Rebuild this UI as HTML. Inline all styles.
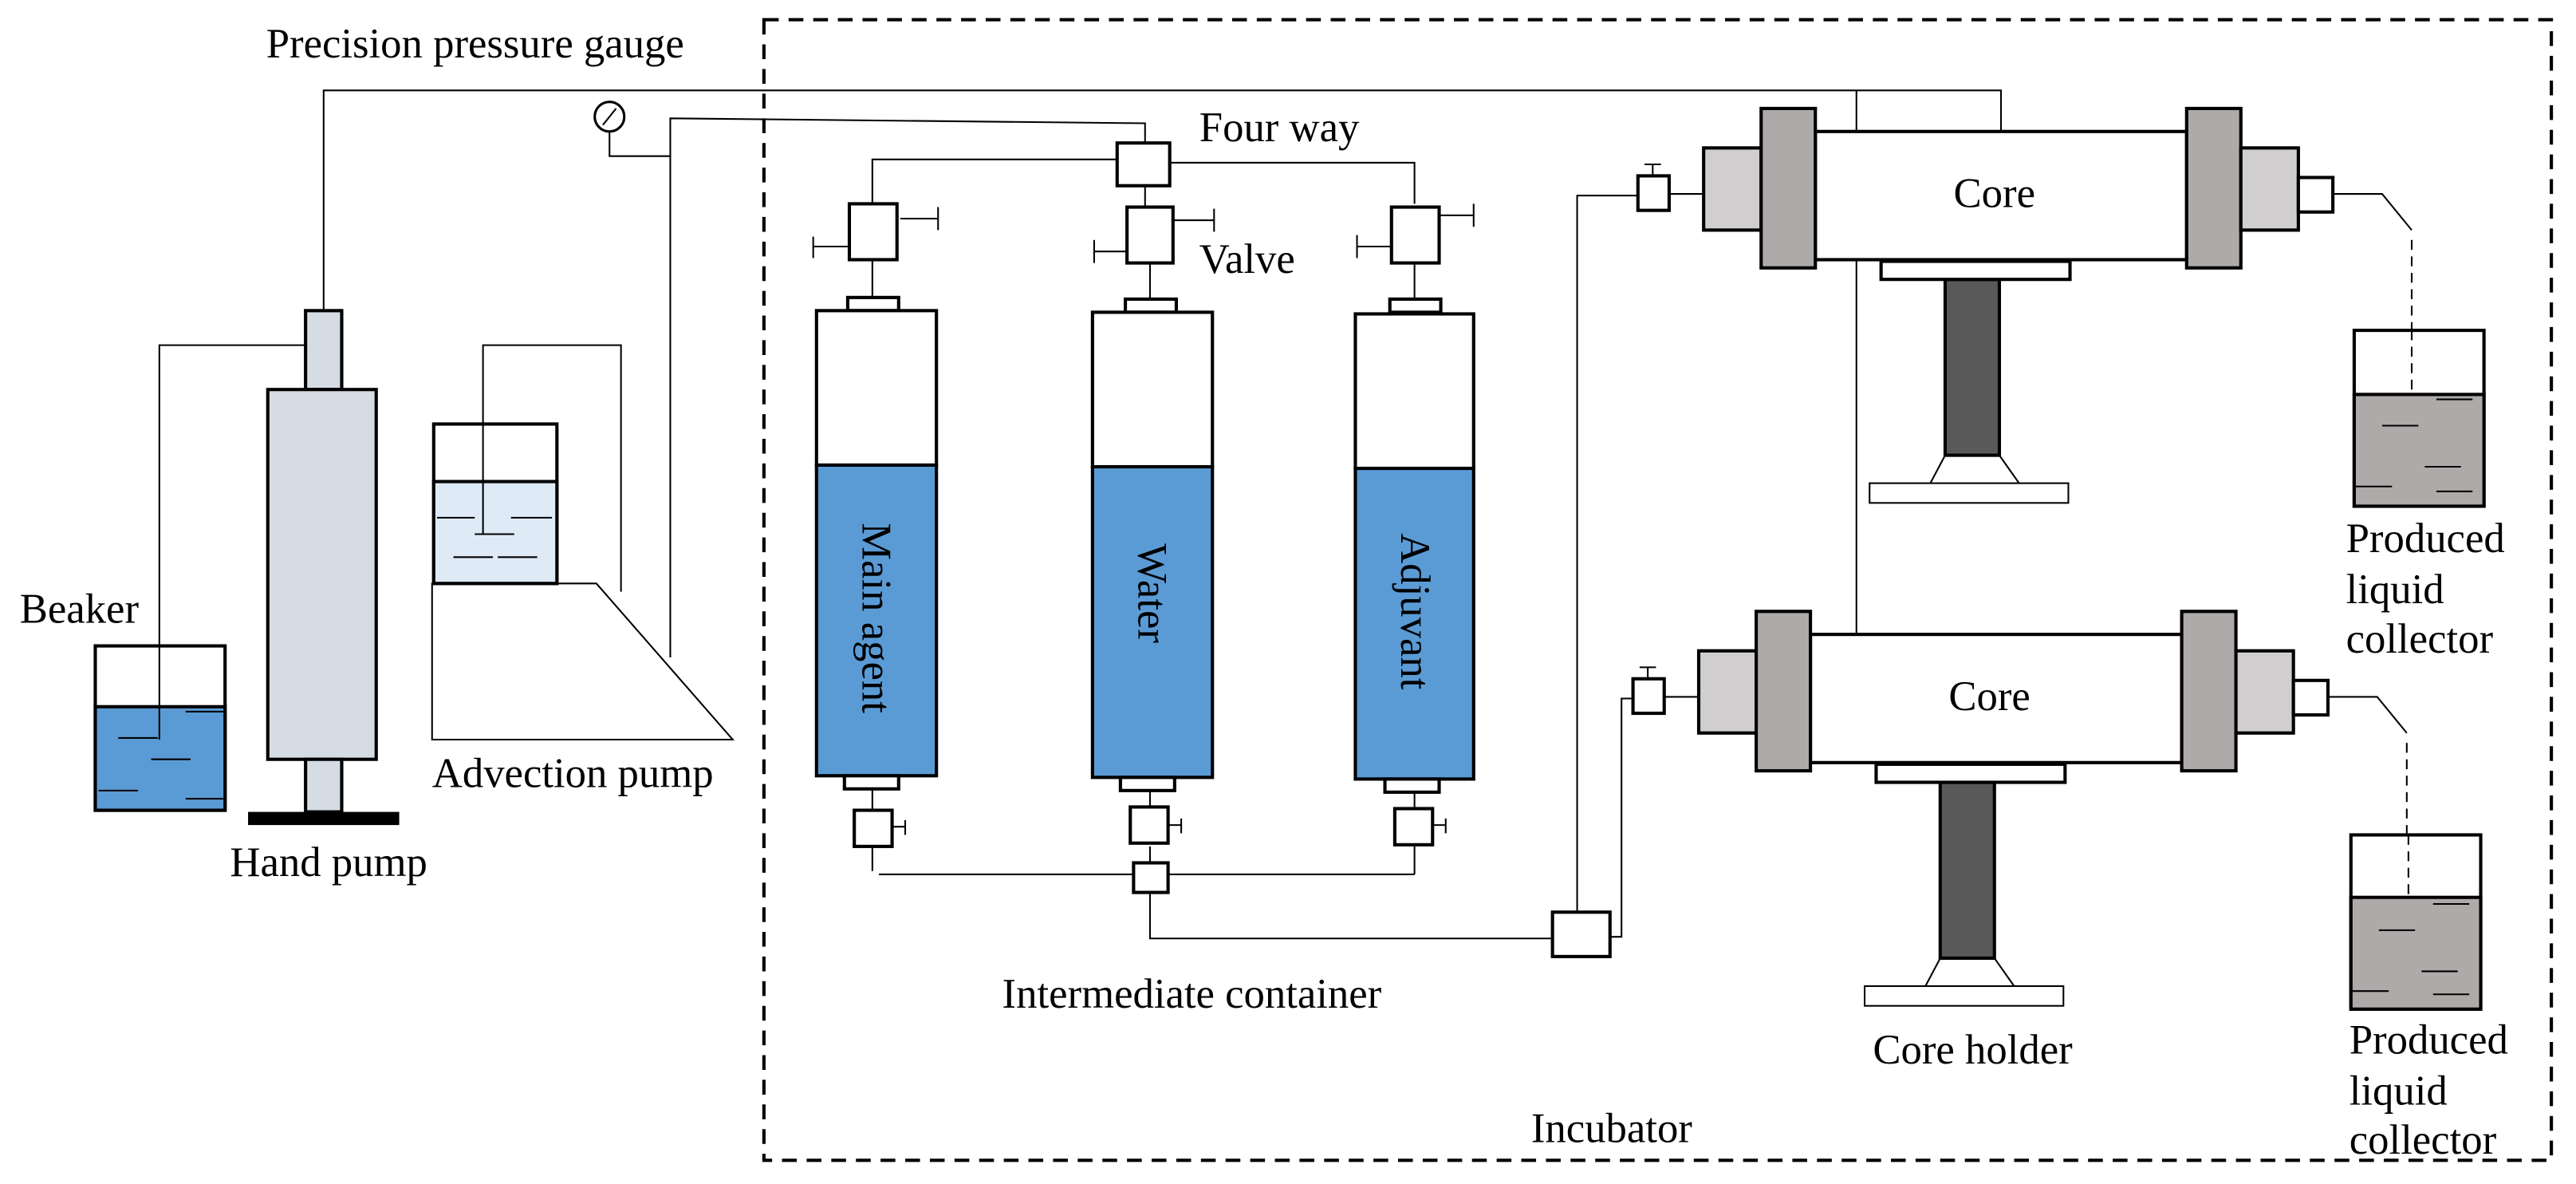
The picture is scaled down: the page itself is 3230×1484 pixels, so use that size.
<!DOCTYPE html>
<html><head><style>
html,body{margin:0;padding:0;background:#fff}
svg{display:block}
text{font-family:"Liberation Serif",serif;font-size:25.6px;fill:#000}
</style></head><body>
<svg width="3230" height="1484" viewBox="0 0 1568 720.4" preserveAspectRatio="none" xmlns="http://www.w3.org/2000/svg">
<rect x="0" y="0" width="1568" height="721" fill="#fff"/>
<rect x="465" y="12" width="1088" height="694" fill="none" stroke="#000" stroke-width="2" stroke-dasharray="9,6"/>
<g fill="none" stroke="#000" stroke-width="1">
<polyline points="197,189 197,55 1218,55 1218,80"/>
<polyline points="1130,55 1130,386"/>
<polyline points="371,79 371,95 408,95"/>
<polyline points="408,400 408,72 697,75 697,87"/>
<polyline points="531,124 531,97 680,97"/>
<polyline points="712,99 861,99 861,124"/>
<line x1="697" y1="113" x2="697" y2="126"/>
<line x1="531" y1="158" x2="531" y2="181"/>
<line x1="700" y1="160" x2="700" y2="183"/>
<line x1="861" y1="160" x2="861" y2="182"/>
<line x1="531" y1="480" x2="531" y2="492"/>
<line x1="531" y1="515" x2="531" y2="530"/>
<line x1="700" y1="480" x2="700" y2="492"/>
<line x1="700" y1="515" x2="700" y2="525"/>
<line x1="861" y1="480" x2="861" y2="492"/>
<line x1="861" y1="515" x2="861" y2="532"/>
<line x1="535" y1="532" x2="861" y2="532"/>
<polyline points="700,543 700,571 945,571"/>
<polyline points="960,555 960,119 997,119"/>
<polyline points="980,570 987,570 987,425 995,425"/>
<polyline points="97,450 97,210 186,210"/>
<polyline points="294,325 294,210 378,210 378,360"/>
</g>
<circle cx="371" cy="71" r="9" fill="#fff" stroke="#000" stroke-width="1.5"/>
<line x1="367" y1="76" x2="375" y2="66" stroke="#000" stroke-width="1"/>
<rect x="58" y="393" width="79" height="100" fill="#fff" stroke="#000" stroke-width="2"/>
<rect x="58" y="430" width="79" height="63" fill="#5b9bd5" stroke="#000" stroke-width="2"/>
<line x1="97" y1="393" x2="97" y2="450" stroke="#000"/>
<g stroke="#000" stroke-width="1"><line x1="113" y1="433" x2="136" y2="433"/><line x1="72" y1="449" x2="96" y2="449"/><line x1="92" y1="462" x2="116" y2="462"/><line x1="60" y1="481" x2="84" y2="481"/><line x1="113" y1="486" x2="136" y2="486"/></g>
<rect x="186" y="189" width="22" height="48" fill="#d6dce4" stroke="#000" stroke-width="2"/>
<rect x="163" y="237" width="66" height="225" fill="#d6dce4" stroke="#000" stroke-width="2"/>
<rect x="186" y="462" width="22" height="32" fill="#d6dce4" stroke="#000" stroke-width="2"/>
<rect x="151" y="494" width="92" height="8" fill="#000"/>
<polygon points="263,355 363,355 446,450 263,450" fill="#fff" stroke="#000" stroke-width="1"/>
<rect x="264" y="258" width="75" height="97" fill="#fff" stroke="#000" stroke-width="2"/>
<rect x="264" y="293" width="75" height="62" fill="#deebf7" stroke="#000" stroke-width="2"/>
<line x1="294" y1="258" x2="294" y2="325" stroke="#000"/>
<g stroke="#000" stroke-width="1"><line x1="266" y1="315" x2="289" y2="315"/><line x1="311" y1="315" x2="336" y2="315"/><line x1="289" y1="325" x2="313" y2="325"/><line x1="276" y1="339" x2="300" y2="339"/><line x1="303" y1="339" x2="327" y2="339"/></g>
<rect x="680" y="87" width="32" height="26" fill="#fff" stroke="#000" stroke-width="2"/>
<g fill="#fff" stroke="#000" stroke-width="2">
<rect x="517" y="124" width="29" height="34"/>
<rect x="686" y="126" width="28" height="34"/>
<rect x="847" y="126" width="29" height="34"/>
</g>
<g stroke="#000" stroke-width="1">
<line x1="548" y1="133" x2="571" y2="133"/><line x1="571" y1="126" x2="571" y2="140"/>
<line x1="495" y1="150" x2="517" y2="150"/><line x1="495" y1="144" x2="495" y2="157"/>
<line x1="714" y1="134" x2="739" y2="134"/><line x1="739" y1="127" x2="739" y2="141"/>
<line x1="666" y1="153" x2="686" y2="153"/><line x1="666" y1="146" x2="666" y2="160"/>
<line x1="876" y1="131" x2="897" y2="131"/><line x1="897" y1="124" x2="897" y2="138"/>
<line x1="826" y1="150" x2="847" y2="150"/><line x1="826" y1="143" x2="826" y2="157"/>
</g>
<g stroke="#000" stroke-width="2">
<rect x="516" y="181" width="31" height="8" fill="#fff"/>
<rect x="685" y="182" width="31" height="8" fill="#fff"/>
<rect x="846" y="182" width="31" height="8" fill="#fff"/>
<rect x="497" y="189" width="73" height="94" fill="#fff"/>
<rect x="497" y="283" width="73" height="189" fill="#5b9bd5"/>
<rect x="665" y="190" width="73" height="94" fill="#fff"/>
<rect x="665" y="284" width="73" height="189" fill="#5b9bd5"/>
<rect x="825" y="191" width="72" height="94" fill="#fff"/>
<rect x="825" y="285" width="72" height="189" fill="#5b9bd5"/>
<rect x="514" y="472" width="33" height="8" fill="#fff"/>
<rect x="682" y="473" width="33" height="8" fill="#fff"/>
<rect x="843" y="474" width="33" height="8" fill="#fff"/>
<rect x="520" y="493" width="23" height="22" fill="#fff"/>
<rect x="688" y="491" width="23" height="22" fill="#fff"/>
<rect x="849" y="492" width="23" height="22" fill="#fff"/>
<rect x="690" y="525" width="21" height="18" fill="#fff"/>
<rect x="945" y="555" width="35" height="27" fill="#fff"/>
</g>
<g stroke="#000" stroke-width="1">
<line x1="543" y1="503" x2="551" y2="503"/><line x1="551" y1="499" x2="551" y2="508"/>
<line x1="711" y1="502" x2="719" y2="502"/><line x1="719" y1="498" x2="719" y2="507"/>
<line x1="872" y1="502" x2="880" y2="502"/><line x1="880" y1="498" x2="880" y2="507"/>
</g>
<text transform="translate(525,376) rotate(90)" text-anchor="middle">Main agent</text>
<text transform="translate(693,361) rotate(90)" text-anchor="middle">Water</text>
<text transform="translate(853,372) rotate(90)" text-anchor="middle">Adjuvant</text>
<g stroke="#000" stroke-width="2">
<rect x="1037" y="90" width="35" height="50" fill="#d0cece"/>
<rect x="1105" y="80" width="226" height="78" fill="#fff"/>
<rect x="1072" y="66" width="33" height="97" fill="#aeaaaa"/>
<rect x="1331" y="66" width="33" height="97" fill="#aeaaaa"/>
<rect x="1364" y="90" width="35" height="50" fill="#d0cece"/>
<rect x="1399" y="108" width="21" height="21" fill="#fff"/>
<rect x="997" y="107" width="19" height="21" fill="#fff"/>
<rect x="1184" y="170" width="33" height="107" fill="#595959"/>
<rect x="1145" y="159" width="115" height="11" fill="#fff"/>
</g>
<g stroke="#000" stroke-width="1" fill="none">
<line x1="1016" y1="118" x2="1037" y2="118"/>
<line x1="1006" y1="107" x2="1006" y2="100"/><line x1="1001" y1="100" x2="1011" y2="100"/>
<polyline points="1420,118 1450,118 1468,140"/>
<line x1="1468" y1="146" x2="1468" y2="240" stroke-dasharray="6,4"/>
<polyline points="1184,277 1175,294"/><polyline points="1217,277 1229,294"/>
<rect x="1138" y="294" width="121" height="12" fill="#fff"/>
</g>
<text x="1214" y="126" text-anchor="middle">Core</text>
<g transform="translate(-3,306)">
<g stroke="#000" stroke-width="2">
<rect x="1037" y="90" width="35" height="50" fill="#d0cece"/>
<rect x="1105" y="80" width="226" height="78" fill="#fff"/>
<rect x="1072" y="66" width="33" height="97" fill="#aeaaaa"/>
<rect x="1331" y="66" width="33" height="97" fill="#aeaaaa"/>
<rect x="1364" y="90" width="35" height="50" fill="#d0cece"/>
<rect x="1399" y="108" width="21" height="21" fill="#fff"/>
<rect x="997" y="107" width="19" height="21" fill="#fff"/>
<rect x="1184" y="170" width="33" height="107" fill="#595959"/>
<rect x="1145" y="159" width="115" height="11" fill="#fff"/>
</g>
<g stroke="#000" stroke-width="1" fill="none">
<line x1="1016" y1="118" x2="1037" y2="118"/>
<line x1="1006" y1="107" x2="1006" y2="100"/><line x1="1001" y1="100" x2="1011" y2="100"/>
<polyline points="1420,118 1450,118 1468,140"/>
<line x1="1468" y1="146" x2="1468" y2="240" stroke-dasharray="6,4"/>
<polyline points="1184,277 1175,294"/><polyline points="1217,277 1229,294"/>
<rect x="1138" y="294" width="121" height="12" fill="#fff"/>
</g>
<text x="1214" y="126" text-anchor="middle">Core</text>
</g>
<g stroke="#000" stroke-width="2">
<rect x="1433" y="201" width="79" height="107" fill="#fff"/>
<rect x="1433" y="240" width="79" height="68" fill="#aeaaaa"/>
<rect x="1431" y="508" width="79" height="106" fill="#fff"/>
<rect x="1431" y="546" width="79" height="68" fill="#aeaaaa"/>
</g>
<g stroke="#000" stroke-width="1">
<line x1="1468" y1="201" x2="1468" y2="240" stroke-dasharray="6,4"/>
<line x1="1466" y1="508" x2="1466" y2="546" stroke-dasharray="6,4"/>
<line x1="1483" y1="243" x2="1505" y2="243"/><line x1="1450" y1="259" x2="1472" y2="259"/><line x1="1476" y1="284" x2="1498" y2="284"/><line x1="1434" y1="296" x2="1456" y2="296"/><line x1="1483" y1="299" x2="1505" y2="299"/>
<line x1="1481" y1="550" x2="1503" y2="550"/><line x1="1448" y1="566" x2="1470" y2="566"/><line x1="1474" y1="591" x2="1496" y2="591"/><line x1="1432" y1="603" x2="1454" y2="603"/><line x1="1481" y1="605" x2="1503" y2="605"/>
</g>
<text x="162" y="35">Precision pressure gauge</text>
<text x="730" y="86">Four way</text>
<text x="730" y="166">Valve</text>
<text x="12" y="379">Beaker</text>
<text x="140" y="533">Hand pump</text>
<text x="263" y="479">Advection pump</text>
<text x="610" y="613">Intermediate container</text>
<text x="1140" y="647">Core holder</text>
<text x="932" y="695">Incubator</text>
<text x="1428" y="336">Produced</text>
<text x="1428" y="367">liquid</text>
<text x="1428" y="397">collector</text>
<text x="1430" y="641">Produced</text>
<text x="1430" y="672">liquid</text>
<text x="1430" y="702">collector</text>
</svg>
</body></html>
